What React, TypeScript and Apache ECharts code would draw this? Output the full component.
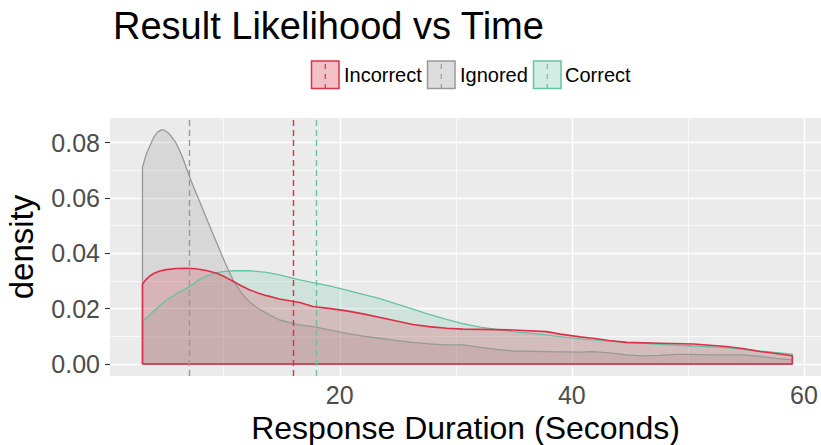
import React, { useEffect, useRef } from 'react';
import * as echarts from 'echarts';

const FONT = '"Liberation Sans", Arial, Helvetica, sans-serif';

const titleText = 'Result Likelihood vs Time';
const xAxisTitle = 'Response Duration (Seconds)';
const yAxisTitle = 'density';

const seriesNames = ['Incorrect', 'Ignored', 'Correct'];
const seriesColors = ['#DC2F48', '#999999', '#66C2A5'];
const seriesFills = ['rgba(220,47,72,0.3)', 'rgba(153,153,153,0.33)', 'rgba(102,194,165,0.3)'];

const incorrectX = [3, 3.3, 3.6, 4.0, 4.5, 5.06, 5.9, 6.8, 7.6, 8.5, 9.4, 10.1, 10.8, 11.5, 12.2, 13.0, 13.7, 14.8, 16.55, 17.7, 19.2, 20.6, 22.0, 23.4, 24.8, 26.3, 27.7, 29.2, 30.6, 32.1, 34.9, 37.8, 39.0, 40.7, 41.8, 43.2, 44.7, 47.6, 50.5, 53.3, 54.7, 56.2, 57.6, 59];
const incorrectY = [0.0289, 0.0305, 0.0317, 0.0328, 0.0336, 0.0341, 0.0345, 0.0346, 0.0344, 0.0338, 0.0328, 0.0315, 0.0299, 0.0283, 0.0268, 0.0256, 0.0247, 0.0235, 0.0222, 0.0208, 0.02, 0.0192, 0.0181, 0.0169, 0.0156, 0.0143, 0.0135, 0.0129, 0.0126, 0.0125, 0.0123, 0.0117, 0.0108, 0.0098, 0.0093, 0.0085, 0.0078, 0.0075, 0.0072, 0.0063, 0.0056, 0.0045, 0.0038, 0.003];

const ignoredX = [3, 3.3, 3.6, 4.0, 4.3, 4.6, 4.9, 5.2, 5.5, 5.9, 6.35, 6.7, 7.0, 7.4, 7.9, 8.6, 9.4, 10.1, 10.8, 11.5, 12.2, 13.0, 13.7, 14.8, 16.5, 17.7, 19.0, 20.6, 22.0, 23.4, 24.8, 26.3, 27.7, 29.2, 30.6, 32.1, 33.5, 35.0, 37.8, 40.7, 41.8, 43.2, 44.7, 46.1, 47.5, 49.0, 50.5, 51.9, 53.3, 54.7, 56.2, 57.6, 59];
const ignoredY = [0.0711, 0.0755, 0.0785, 0.0822, 0.0838, 0.0846, 0.0845, 0.0836, 0.0822, 0.0798, 0.0757, 0.0718, 0.0683, 0.064, 0.059, 0.0518, 0.0437, 0.0368, 0.0304, 0.0258, 0.0225, 0.02, 0.0183, 0.0159, 0.0141, 0.0135, 0.0124, 0.0111, 0.0101, 0.0093, 0.0085, 0.0078, 0.0073, 0.0069, 0.0069, 0.006, 0.0053, 0.0047, 0.0045, 0.0043, 0.0045, 0.004, 0.0033, 0.0029, 0.0031, 0.0035, 0.0035, 0.0033, 0.0033, 0.0033, 0.0028, 0.002, 0.0015];

const correctX = [3, 4.0, 5.06, 6.0, 7.0, 7.8, 8.5, 9.4, 10.1, 10.8, 12.2, 13.7, 14.8, 16.55, 17.7, 19.2, 20.6, 22.0, 23.4, 24.8, 26.3, 27.7, 29.2, 30.6, 32.1, 34.9, 37.8, 39.0, 40.7, 41.8, 44.7, 47.6, 50.5, 53.3, 56.2, 59];
const correctY = [0.0153, 0.0192, 0.0231, 0.0256, 0.0278, 0.0302, 0.0318, 0.033, 0.0335, 0.0337, 0.0337, 0.0331, 0.0322, 0.0304, 0.0294, 0.0281, 0.0267, 0.0252, 0.0237, 0.0218, 0.0198, 0.0179, 0.0161, 0.0146, 0.0133, 0.0117, 0.0105, 0.0099, 0.0091, 0.0087, 0.0078, 0.0071, 0.0065, 0.0059, 0.0047, 0.0036];

const meanValues = [16.0, 7.0, 18.0];

const xTicks = [20, 40, 60];
const xMinorGrid = [10, 30, 50];
const yTicks = [0, 0.02, 0.04, 0.06, 0.08];
const yMinorGrid = [0.01, 0.03, 0.05, 0.07];

const seriesX = [incorrectX, ignoredX, correctX];
const seriesY = [incorrectY, ignoredY, correctY];

function polygon(xs: number[], ys: number[]) {
  const pts: number[][] = [[xs[0], 0]];
  xs.forEach((x, i) => pts.push([x, ys[i]]));
  pts.push([xs[xs.length - 1], 0]);
  pts.push([xs[0], 0]);
  return pts;
}

export default function App() {
  const ref = useRef<HTMLDivElement>(null);
  useEffect(() => {
    if (!ref.current) return;
    const chart = echarts.init(ref.current, undefined, { renderer: 'svg' });

    const gridLines: any[] = [];
    yTicks.forEach((v) => gridLines.push({ yAxis: v, lineStyle: { width: 1.4 } }));
    yMinorGrid.forEach((v) => gridLines.push({ yAxis: v, lineStyle: { width: 0.7 } }));
    xTicks.forEach((v) => gridLines.push({ xAxis: v, lineStyle: { width: 1.4 } }));
    xMinorGrid.forEach((v) => gridLines.push({ xAxis: v, lineStyle: { width: 0.7 } }));

    // draw order: Correct, Ignored, Incorrect (incorrect on top)
    const order = [2, 1, 0];
    const series: any[] = [
      {
        type: 'line',
        name: 'grid',
        data: [],
        silent: true,
        markLine: {
          silent: true,
          z: 1,
          symbol: ['none', 'none'],
          label: { show: false },
          lineStyle: { color: '#FFFFFF', type: 'solid' },
          emphasis: { disabled: true },
          data: gridLines,
        },
      },
    ];
    order.forEach((i) => {
      series.push({
        type: 'line',
        name: seriesNames[i],
        data: polygon(seriesX[i], seriesY[i]),
        showSymbol: false,
        symbol: 'none',
        silent: true,
        smooth: false,
        lineStyle: { color: seriesColors[i], width: i === 0 ? 1.6 : 1.3 },
        areaStyle: { color: seriesFills[i], origin: 0 },
        markLine: {
          silent: true,
          symbol: ['none', 'none'],
          label: { show: false },
          lineStyle: { color: seriesColors[i], type: [6, 4], width: 1.4 },
          emphasis: { disabled: true },
          data: [{ xAxis: meanValues[i] }],
        },
      });
    });

    const legendBoxX = [311.5, 427.5, 533.5];
    const legendTextX = [344, 460, 565];
    const graphics: any[] = [];
    seriesNames.forEach((name, i) => {
      graphics.push({
        type: 'rect',
        shape: { x: legendBoxX[i], y: 61, width: 27.5, height: 27.5 },
        style: { fill: seriesFills[i], stroke: seriesColors[i], lineWidth: 1.5 },
      });
      graphics.push({
        type: 'line',
        shape: { x1: legendBoxX[i] + 13.75, y1: 61, x2: legendBoxX[i] + 13.75, y2: 88.5 },
        style: { stroke: seriesColors[i], lineWidth: 1.2, lineDash: [5, 5], lineDashOffset: -3 },
      });
      graphics.push({
        type: 'text',
        x: legendTextX[i],
        y: 75,
        style: {
          text: name,
          fontSize: 20,
          fontFamily: FONT,
          fill: '#000000',
          verticalAlign: 'middle',
          align: 'left',
        },
      });
    });

    chart.setOption({
      animation: false,
      backgroundColor: '#FFFFFF',
      title: {
        text: titleText,
        left: 113,
        top: 7,
        padding: 0,
        textStyle: { fontSize: 38, fontWeight: 'normal', color: '#000000', fontFamily: FONT },
      },
      grid: {
        left: 110,
        right: 0,
        top: 118,
        bottom: 69,
        show: true,
        backgroundColor: '#EBEBEB',
        borderWidth: 0,
        containLabel: false,
        outerBoundsMode: 'none',
      },
      xAxis: {
        type: 'value',
        min: 0.2,
        max: 61.47,
        axisLine: { show: false },
        axisTick: { show: true, customValues: xTicks, length: 5, lineStyle: { color: '#333333', width: 1.1 } },
        axisLabel: { customValues: xTicks, margin: 6, fontSize: 25, color: '#4D4D4D', fontFamily: FONT },
        splitLine: { show: false },
        name: xAxisTitle,
        nameLocation: 'middle',
        nameGap: 25,
        nameTextStyle: { fontSize: 32, color: '#000000', fontFamily: FONT },
      },
      yAxis: {
        type: 'value',
        min: -0.00434,
        max: 0.0889,
        axisLine: { show: false },
        axisTick: { show: true, customValues: yTicks, length: 5, lineStyle: { color: '#333333', width: 1.1 } },
        axisLabel: {
          customValues: yTicks,
          margin: 10,
          fontSize: 25,
          color: '#4D4D4D',
          fontFamily: FONT,
          formatter: (v: number) => v.toFixed(2),
        },
        splitLine: { show: false },
        name: yAxisTitle,
        nameLocation: 'middle',
        nameGap: 72,
        nameTextStyle: { fontSize: 33, color: '#000000', fontFamily: FONT },
      },
      graphic: graphics,
      series,
    });
    return () => chart.dispose();
  }, []);

  return (
    <div
      ref={ref}
      style={{ position: 'absolute', left: 0, top: 0, width: 821, height: 445, background: '#fff' }}
    />
  );
}
